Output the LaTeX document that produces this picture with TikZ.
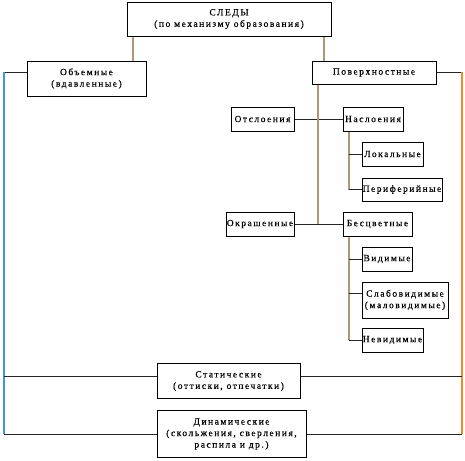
\documentclass[tikz,border=0pt]{standalone}
\usepackage{fontspec}
\setmainfont{Liberation Serif}[LetterSpace=16,FakeBold=0.4]
\usetikzlibrary{backgrounds}
\begin{document}
\begin{tikzpicture}[x=1pt,y=-1pt,
  box/.style={draw=black,line width=0.9pt,fill=white,inner sep=0pt,align=center,font=\fontsize{9.5}{11.5}\selectfont},
  hline/.style={draw=black!85,line width=0.9pt},
  vline/.style={draw={rgb,255:red,176;green,150;blue,118},line width=1.2pt},
  lline/.style={draw={rgb,255:red,60;green,150;blue,230},line width=1.2pt},
  rline/.style={draw={rgb,255:red,235;green,140;blue,40},line width=1.2pt}]
\useasboundingbox (0,0) rectangle (465,460);
% nodes
\node[box,minimum width=204pt,minimum height=34pt] (sledy) at (229,19) {СЛЕДЫ\\(по механизму образования)};
\node[box,minimum width=119pt,minimum height=35pt] (obem) at (86.5,78.5) {Объемные\\(вдавленные)};
\node[box,minimum width=124pt,minimum height=23pt] (pov) at (374,72.5) {Поверхностные};
\node[box,minimum width=63pt,minimum height=24pt] (otsl) at (262.5,119) {Отслоения};
\node[box,minimum width=60pt,minimum height=24pt] (nasl) at (373,119) {Наслоения};
\node[box,minimum width=61pt,minimum height=24pt] (lok) at (392.5,154) {Локальные};
\node[box,minimum width=80pt,minimum height=23pt] (per) at (402,189.5) {Периферийные};
\node[box,minimum width=68pt,minimum height=24pt] (okr) at (260,224) {Окрашенные};
\node[box,minimum width=69pt,minimum height=24pt] (bes) at (377.5,224) {Бесцветные};
\node[box,minimum width=50pt,minimum height=24pt] (vid) at (387,259) {Видимые};
\node[box,minimum width=86pt,minimum height=36pt] (slab) at (405,300) {Слабовидимые\\(маловидимые)};
\node[box,minimum width=61pt,minimum height=24pt] (nev) at (392.5,340) {Невидимые};
\node[box,minimum width=143pt,minimum height=35pt] (stat) at (228.5,381) {Статические\\(оттиски, отпечатки)};
\node[box,minimum width=149pt,minimum height=47pt] (din) at (231.5,434) {Динамические\\(скольжения, сверления,\\распила и др.)};
% helper coordinates
\coordinate (lt) at (4,72);
\coordinate (rt) at (462,72);
\coordinate (lm) at (4,376);
\coordinate (rm) at (462,376);
\coordinate (lb) at (4,434);
\coordinate (rb) at (462,434);
\coordinate (xo) at (133,0);
\coordinate (xp) at (324,0);
\coordinate (xt) at (318,0);
\coordinate (xs) at (349,0);
\begin{pgfonlayer}{background}
\draw[hline] (obem.west |- lt) -- (lt);
\draw[lline] (lt) -- (lb);
\draw[hline] (pov.east |- rt) -- (rt);
\draw[rline] (rt) -- (rb);
\draw[hline] (lm) -- (stat.west |- lm);
\draw[hline] (stat.east |- rm) -- (rm);
\draw[hline] (lb) -- (din.west |- lb);
\draw[hline] (din.east |- rb) -- (rb);
\draw[vline] (sledy.south -| xo) -- (obem.north -| xo);
\draw[vline] (sledy.south -| xp) -- (pov.north -| xp);
\draw[hline] (otsl.east) -- (nasl.west);
\draw[hline] (okr.east) -- (bes.west);
\draw[vline] (pov.south -| xt) -- (okr.east -| xt);
\draw[vline] (nasl.south -| xs) -- (per.west -| xs);
\draw[hline] (lok.west -| xs) -- (lok.west);
\draw[hline] (per.west -| xs) -- (per.west);
\draw[vline] (bes.south -| xs) -- (nev.west -| xs);
\draw[hline] (vid.west -| xs) -- (vid.west);
\draw[hline] ([yshift=7pt]slab.west -| xs) -- ([yshift=7pt]slab.west);
\draw[hline] (nev.west -| xs) -- (nev.west);
\end{pgfonlayer}
\end{tikzpicture}
\end{document}
